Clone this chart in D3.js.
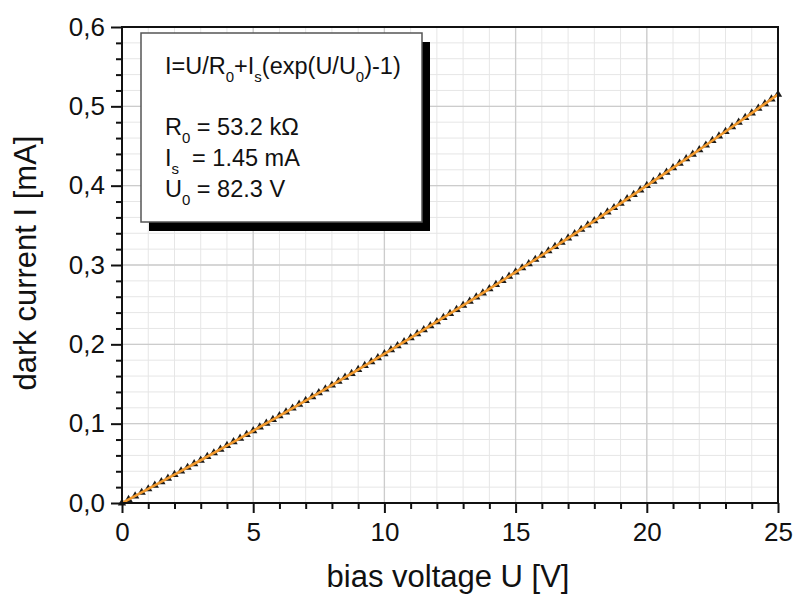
<!DOCTYPE html>
<html>
<head>
<meta charset="utf-8">
<script src="https://cdn.jsdelivr.net/npm/d3@7"></script>
<style>
  body { margin: 0; background: #fff; }
  svg text { font-family: "Liberation Sans", Arial, sans-serif; fill: #111; }
</style>
</head>
<body>
<svg id="chart"></svg>
<script>
const voltage = [
  0, 0.25, 0.5, 0.75, 1, 1.25, 1.5, 1.75, 2, 2.25, 2.5, 2.75, 3, 3.25, 3.5, 3.75,
  4, 4.25, 4.5, 4.75, 5, 5.25, 5.5, 5.75, 6, 6.25, 6.5, 6.75, 7, 7.25, 7.5, 7.75,
  8, 8.25, 8.5, 8.75, 9, 9.25, 9.5, 9.75, 10, 10.25, 10.5, 10.75, 11, 11.25, 11.5, 11.75,
  12, 12.25, 12.5, 12.75, 13, 13.25, 13.5, 13.75, 14, 14.25, 14.5, 14.75, 15, 15.25, 15.5, 15.75,
  16, 16.25, 16.5, 16.75, 17, 17.25, 17.5, 17.75, 18, 18.25, 18.5, 18.75, 19, 19.25, 19.5, 19.75,
  20, 20.25, 20.5, 20.75, 21, 21.25, 21.5, 21.75, 22, 22.25, 22.5, 22.75, 23, 23.25, 23.5, 23.75,
  24, 24.25, 24.5, 24.75, 25
];
const current = [
  0, 0.0044, 0.0088, 0.0133, 0.0177, 0.0222, 0.0267, 0.0312, 0.0357, 0.0402, 0.0448, 0.0493, 0.0539, 0.0585, 0.0631, 0.0677,
  0.0723, 0.0770, 0.0816, 0.0863, 0.0910, 0.0957, 0.1004, 0.1052, 0.1099, 0.1147, 0.1195, 0.1243, 0.1291, 0.1339, 0.1388, 0.1436,
  0.1485, 0.1534, 0.1583, 0.1632, 0.1681, 0.1731, 0.1780, 0.1830, 0.1880, 0.1930, 0.1980, 0.2031, 0.2081, 0.2132, 0.2183, 0.2234,
  0.2285, 0.2336, 0.2388, 0.2439, 0.2491, 0.2543, 0.2595, 0.2647, 0.2699, 0.2752, 0.2804, 0.2857, 0.2910, 0.2963, 0.3016, 0.3070,
  0.3123, 0.3177, 0.3231, 0.3285, 0.3339, 0.3393, 0.3448, 0.3502, 0.3557, 0.3612, 0.3667, 0.3722, 0.3777, 0.3833, 0.3888, 0.3944,
  0.4000, 0.4056, 0.4112, 0.4169, 0.4225, 0.4282, 0.4339, 0.4396, 0.4453, 0.4510, 0.4568, 0.4625, 0.4683, 0.4741, 0.4799, 0.4857,
  0.4915, 0.4974, 0.5032, 0.5091, 0.5150
];

// fit curve (orange), sampled at whole volts
const fitU = [0, 1, 2, 3, 4, 5, 6, 7, 8, 9, 10, 11, 12, 13, 14, 15, 16, 17, 18, 19, 20, 21, 22, 23, 24, 25];
const fitI = [0, 0.0177, 0.0357, 0.0539, 0.0723, 0.0910, 0.1099, 0.1291, 0.1485, 0.1681, 0.1880,
  0.2081, 0.2285, 0.2491, 0.2699, 0.2910, 0.3123, 0.3339, 0.3557, 0.3777, 0.4000,
  0.4225, 0.4453, 0.4683, 0.4915, 0.5150];

const xTicks = [0, 5, 10, 15, 20, 25];
const yTicks = [0, 0.1, 0.2, 0.3, 0.4, 0.5, 0.6];

const xTitle = "bias voltage U [V]";
const yTitle = "dark current I [mA]";

const width = 797;
const height = 595;
const margin = {top: 27, right: 19, bottom: 92, left: 122};
const iw = width - margin.left - margin.right;
const ih = height - margin.top - margin.bottom;

let svg = d3.select("#chart").attr("width", width).attr("height", height);

let xScale = d3.scaleLinear().domain([0, 25]).range([0, iw]);
let yScale = d3.scaleLinear().domain([0, 0.6]).range([ih, 0]);

let g = svg.append("g").attr("transform", `translate(${margin.left},${margin.top})`);

// grid: minor first, then major
const xMinor = d3.range(0, 26, 1);
const yMinor = d3.range(0, 31).map(d => d * 0.02);

g.append("g").selectAll("line").data(xMinor).join("line")
  .attr("x1", d => xScale(d)).attr("x2", d => xScale(d))
  .attr("y1", 0).attr("y2", ih)
  .attr("stroke", "#e6e6e6").attr("stroke-width", 1);
g.append("g").selectAll("line").data(yMinor).join("line")
  .attr("x1", 0).attr("x2", iw)
  .attr("y1", d => yScale(d)).attr("y2", d => yScale(d))
  .attr("stroke", "#e6e6e6").attr("stroke-width", 1);
g.append("g").selectAll("line").data(xTicks).join("line")
  .attr("x1", d => xScale(d)).attr("x2", d => xScale(d))
  .attr("y1", 0).attr("y2", ih)
  .attr("stroke", "#cccccc").attr("stroke-width", 1.3);
g.append("g").selectAll("line").data(yTicks).join("line")
  .attr("x1", 0).attr("x2", iw)
  .attr("y1", d => yScale(d)).attr("y2", d => yScale(d))
  .attr("stroke", "#cccccc").attr("stroke-width", 1.3);

// measured points: small black up-triangles
const tri = d3.symbol().type(d3.symbolTriangle).size(30);
g.append("g").selectAll("path").data(voltage).join("path")
  .attr("d", tri)
  .attr("transform", (d, i) => `translate(${xScale(d)},${yScale(current[i])})`)
  .attr("fill", "#1a1a1a");

// fit line on top
const line = d3.line()
  .x((d, i) => xScale(fitU[i]))
  .y(d => yScale(d))
  .curve(d3.curveMonotoneX);
g.append("path")
  .datum(fitI)
  .attr("d", line)
  .attr("fill", "none")
  .attr("stroke", "#f29a2e")
  .attr("stroke-width", 2.6);

// axes
let xAxis = g.append("g").attr("transform", `translate(0,${ih})`)
  .call(d3.axisBottom(xScale).tickValues(xTicks).tickSize(10).tickPadding(10).tickFormat(d3.format("d")));
let xAxisMinor = g.append("g").attr("transform", `translate(0,${ih})`)
  .call(d3.axisBottom(xScale).tickValues(xMinor.filter(d => d % 5 !== 0)).tickSize(6).tickFormat(""));
let yAxis = g.append("g")
  .call(d3.axisLeft(yScale).tickValues(yTicks).tickSize(11).tickPadding(6)
    .tickFormat(d => d3.format(".1f")(d).replace(".", ",")));
let yAxisMinor = g.append("g")
  .call(d3.axisLeft(yScale).tickValues(yMinor.filter((d, i) => i % 5 !== 0)).tickSize(6).tickFormat(""));

[xAxis, xAxisMinor, yAxis, yAxisMinor].forEach(a => {
  a.select(".domain").remove();
  a.selectAll(".tick line").attr("stroke", "#111").attr("stroke-width", 2);
  a.selectAll("text").style("font-family", "Liberation Sans, Arial, sans-serif")
    .style("font-size", "26px").attr("fill", "#111");
});

// frame
g.append("rect")
  .attr("x", 0).attr("y", 0).attr("width", iw).attr("height", ih)
  .attr("fill", "none").attr("stroke", "#111").attr("stroke-width", 2);

// axis titles
svg.append("text")
  .attr("x", margin.left + iw / 2 - 2)
  .attr("y", 587)
  .attr("text-anchor", "middle")
  .style("font-size", "31px")
  .text(xTitle);
svg.append("text")
  .attr("transform", `translate(36,${margin.top + ih / 2 - 2}) rotate(-90)`)
  .attr("text-anchor", "middle")
  .style("font-size", "31px")
  .text(yTitle);

// fit parameter box with drop shadow
const box = {x: 141, y: 33, w: 281, h: 189};
svg.append("rect")
  .attr("x", box.x + 8).attr("y", box.y + 9).attr("width", box.w).attr("height", box.h)
  .attr("fill", "#000");
svg.append("rect")
  .attr("x", box.x).attr("y", box.y).attr("width", box.w).attr("height", box.h)
  .attr("fill", "#fff").attr("stroke", "#555").attr("stroke-width", 1.5);

const boxLines = [
  [["I=U/R", ""], ["0", "sub"], ["+I", ""], ["s", "sub"], ["(exp(U/U", ""], ["0", "sub"], [")-1)", ""]],
  [["R", ""], ["0", "sub"], [" = 53.2 k\u03A9", ""]],
  [["I", ""], ["s", "sub"], ["  = 1.45 mA", ""]],
  [["U", ""], ["0", "sub"], [" = 82.3 V", ""]]
];
const boxBase = [74, 135, 166, 197];

boxLines.forEach((parts, i) => {
  let t = svg.append("text")
    .attr("x", 165).attr("y", boxBase[i])
    .style("font-size", "23.5px")
    .attr("xml:space", "preserve");
  parts.forEach((p, k) => {
    let ts = t.append("tspan").text(p[0]);
    if (p[1] === "sub") ts.attr("dy", 8).style("font-size", "15px");
    else if (k > 0 && parts[k - 1][1] === "sub") ts.attr("dy", -8);
  });
});
</script>
</body>
</html>
